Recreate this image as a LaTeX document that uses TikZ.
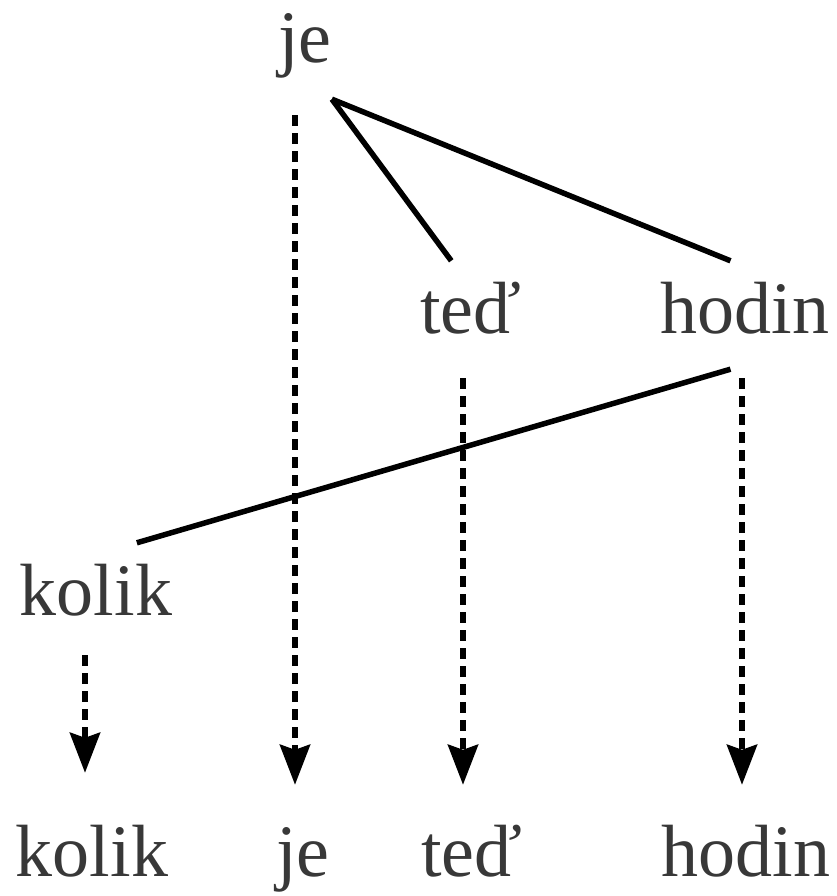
\documentclass[tikz,border=0pt]{standalone}
\usepackage{fontspec}
\setmainfont{Liberation Serif}
\usetikzlibrary{arrows.meta}

\begin{document}
\begin{tikzpicture}[x=1pt, y=-1pt,
  every node/.style={inner xsep=0pt, inner ysep=20pt, text height=52pt,
    text depth=16pt, font=\fontsize{74}{80}\selectfont, text=black!78},
  flat/.style={inner ysep=0pt, text depth=0pt},
  >={Stealth[length=40pt, width=30pt, inset=5pt]},
  link/.style={line width=5.5pt},
  trace/.style={->, line width=6pt, dash pattern=on 11pt off 7pt}]
  \useasboundingbox (0,0) rectangle (836,896);
  % tree
  \node (je)    at (305, 45)  {je};
  \node (ted)   at (471, 315) {teď};
  \node (hodin) at (745, 315) {hodin};
  \node (kolik) at (96, 597)  {kolik};
  % surface order
  \node[flat] (kolik2) at (92, 850)  {kolik};
  \node[flat] (je2)    at (303, 850) {je};
  \node[flat] (ted2)   at (472, 850) {teď};
  \node[flat] (hodin2) at (746, 850) {hodin};
  % dependencies
  \draw[link] (je.south east) -- (ted.110);
  \draw[link] (je.south east) -- (hodin.105);
  \draw[link] (hodin.-105) -- (kolik.53);
  % projection onto the sentence
  \draw[trace, shorten <=16pt, shorten >=39pt] ([xshift=-10pt]je.south) -- ([xshift=-8pt]je2.north);
  \draw[trace, shorten <=9pt, shorten >=39pt] ([xshift=-8pt]ted.south) -- ([xshift=-9pt]ted2.north);
  \draw[trace, shorten <=9pt, shorten >=39pt] ([xshift=-3pt]hodin.south) -- ([xshift=-4pt]hodin2.north);
  \draw[trace, shorten <=4pt, shorten >=51pt] ([xshift=-11pt]kolik.south) -- ([xshift=-7pt]kolik2.north);
\end{tikzpicture}
\end{document}
